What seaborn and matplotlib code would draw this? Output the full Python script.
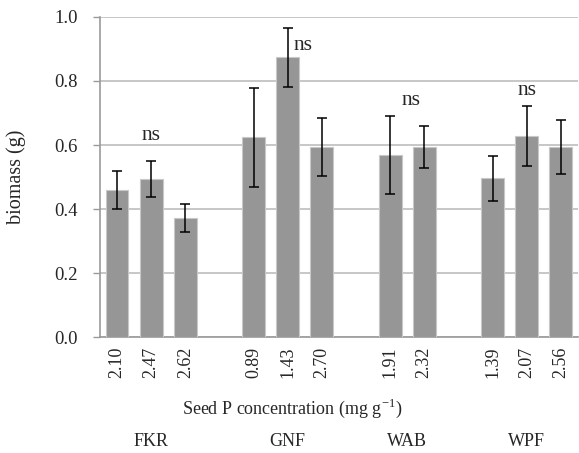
import matplotlib
matplotlib.use("Agg")
import matplotlib.pyplot as plt
import seaborn as sns
import pandas as pd
import numpy as np

groups = ["FKR", "FKR", "FKR", "GNF", "GNF", "GNF", "WAB", "WAB", "WPF", "WPF", "WPF"]
seed_p = ["2.10", "2.47", "2.62", "0.89", "1.43", "2.70", "1.91", "2.32", "1.39", "2.07", "2.56"]
biomass = [0.46, 0.495, 0.372, 0.624, 0.874, 0.594, 0.569, 0.594, 0.496, 0.629, 0.594]
err = [0.060, 0.056, 0.045, 0.155, 0.093, 0.091, 0.121, 0.065, 0.071, 0.094, 0.085]
slot_order = ["2.10", "2.47", "2.62", "gap1", "0.89", "1.43", "2.70", "gap2",
              "1.91", "2.32", "gap3", "1.39", "2.07", "2.56"]
group_names = ["FKR", "GNF", "WAB", "WPF"]
ns_slots = ["2.47", "1.43", "2.32", "2.07"]
ns_y = [0.63, 0.91, 0.74, 0.77]
ns_dx = [0.0, 0.45, -0.4, 0.0]

sns.set_style("white")
plt.rcParams["font.family"] = ["Liberation Serif", "DejaVu Serif"]
plt.rcParams["mathtext.fontset"] = "custom"
plt.rcParams["mathtext.rm"] = "Liberation Serif"

df = pd.DataFrame({"group": groups, "seed_p": seed_p, "biomass": biomass, "err": err})

fig = plt.figure(figsize=(5.79, 4.53), dpi=100)
ax = fig.add_axes([0.1727, 0.256, 0.8253, 0.7065])

sns.barplot(data=df, x="seed_p", y="biomass", order=slot_order, color="#969696",
            width=0.67, edgecolor="#c8c8c8", linewidth=0.8, errorbar=None,
            saturation=1, ax=ax, zorder=3)

pos = [slot_order.index(s) for s in seed_p]
ax.errorbar(pos, biomass, yerr=err, fmt="none", ecolor="black", elinewidth=1.1,
            capsize=3.5, capthick=1.1, zorder=4)

for s, y, dx in zip(ns_slots, ns_y, ns_dx):
    ax.text(slot_order.index(s) + dx, y, "ns", ha="center", va="center", fontsize=15.5)

ax.set_ylim(0, 1.0)
ax.set_xlim(-0.5, len(slot_order) - 0.5)
ax.set_yticks(np.arange(0, 1.01, 0.2))
ax.set_yticklabels([f"{v:.1f}" for v in np.arange(0, 1.01, 0.2)], fontsize=13.5)
ax.yaxis.grid(True, color="#bdbdbd", linewidth=1.2, zorder=0)
ax.set_axisbelow(True)

ax.set_xticks(range(len(slot_order)))
ax.set_xticklabels(["" if s.startswith("gap") else s for s in slot_order],
                   rotation=90, fontsize=13)
ax.tick_params(axis="x", which="major", length=0, pad=7)
ax.set_xticks(np.arange(-0.5, len(slot_order), 1.0), minor=True)
ax.tick_params(axis="x", which="minor", length=5, color="#9a9a9a", width=1)
ax.tick_params(axis="y", which="major", length=5, color="#9a9a9a", width=1,
               left=True, pad=11)

for sp in ["top", "right"]:
    ax.spines[sp].set_visible(False)
for sp in ["left", "bottom"]:
    ax.spines[sp].set_color("#9a9a9a")
    ax.spines[sp].set_linewidth(1.2)

ax.set_ylabel("biomass (g)", fontsize=14.5, labelpad=20)
ax.set_xlabel("")
fig.text(292, 453 - 408, "Seed P concentration (mg g$^{-1}$)", fontsize=13,
         ha="center", va="center", transform=None)

group_centers = []
for g in group_names:
    idx = [slot_order.index(s) for s, gg in zip(seed_p, groups) if gg == g]
    group_centers.append(np.mean(idx))
for g, c in zip(group_names, group_centers):
    xd = ax.transData.transform((c, 0))[0]
    fig.text(xd, 453 - 442, g, fontsize=13, ha="center", va="center", transform=None)

fig.savefig("out.png", dpi=100)
